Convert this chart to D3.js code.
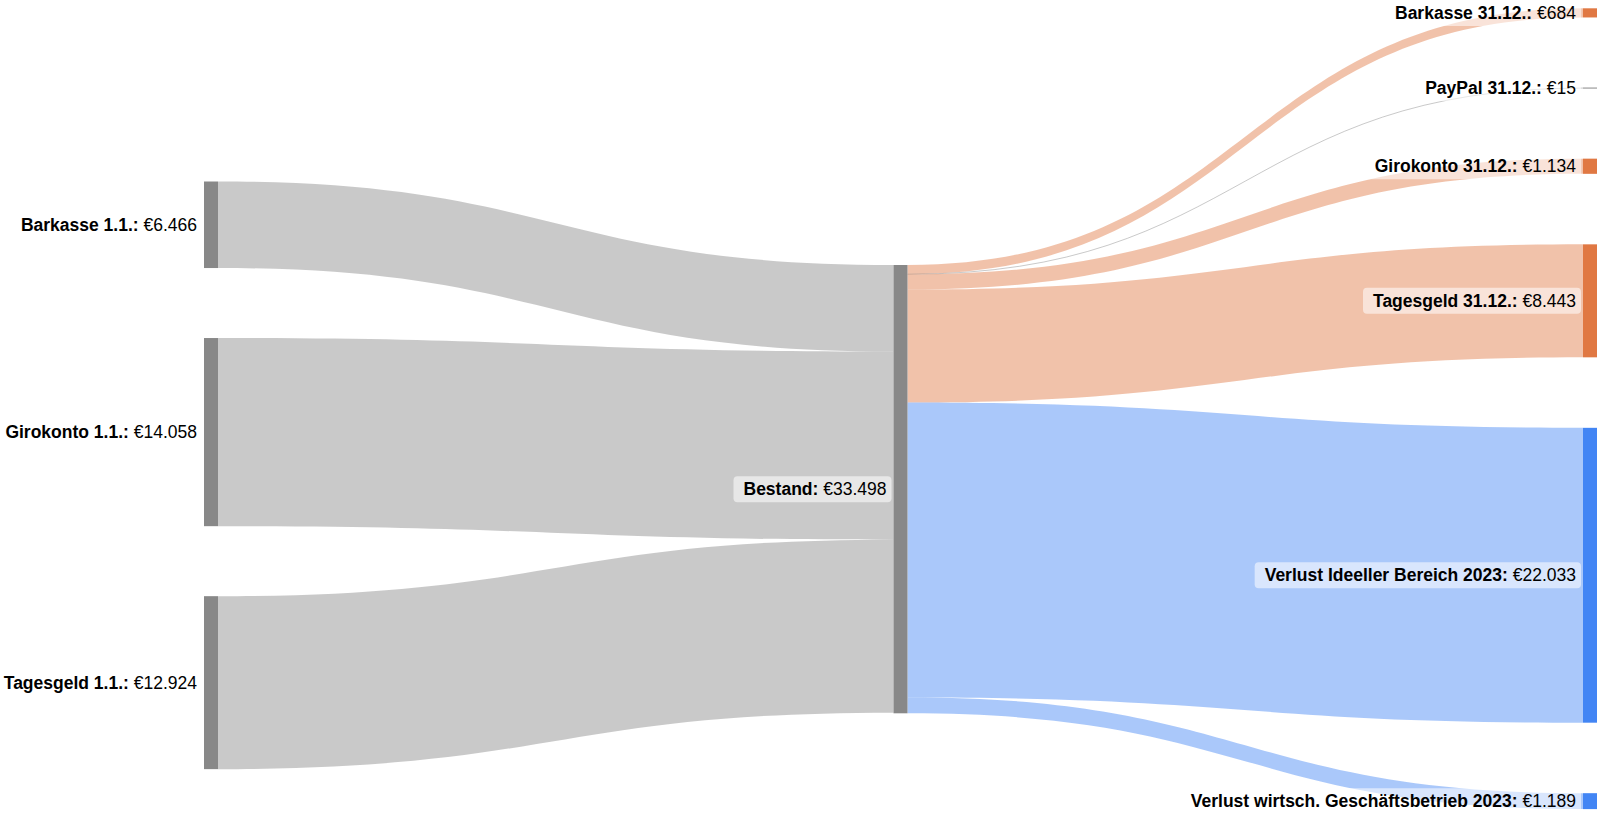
<!DOCTYPE html>
<html>
<head>
<meta charset="utf-8">
<script src="https://cdn.jsdelivr.net/npm/d3@7"></script>
<style>
  body { margin: 0; background: #fff; }
  svg text { font-family: "Liberation Sans", Arial, Helvetica, sans-serif; }
</style>
</head>
<body>
<div id="canvas"></div>
<script>
"use strict";

/* Data: Kassenbestand 1.1. -> Bestand -> 31.12. / Verluste */
const sourceNames = ["Barkasse 1.1.", "Girokonto 1.1.", "Tagesgeld 1.1."];
const sourceValues = [6466, 14058, 12924];

const hubName = "Bestand";

const targetNames = [
  "Barkasse 31.12.",
  "PayPal 31.12.",
  "Girokonto 31.12.",
  "Tagesgeld 31.12.",
  "Verlust Ideeller Bereich 2023",
  "Verlust wirtsch. Geschäftsbetrieb 2023"
];
const targetValues = [684, 15, 1134, 8443, 22033, 1189];
const targetKinds = ["konto", "paypal", "konto", "konto", "verlust", "verlust"];

/* Configuration: drawing */
let svgWidth = 1604;
let svgHeight = 815;
const nodeWidth = 14;
const colTop = [181.5, 265, 8.3];   // first node top per column
const colGap = [70, 0, 70.5];       // gap between nodes per column
const kindColor = { grey: "#888888", konto: "#e07843", paypal: "#888888", verlust: "#4285f4" };
const linkOpacity = 0.45;

// hub shows the larger of inflow / outflow
const hubValue = Math.max(d3.sum(sourceValues), d3.sum(targetValues));

// german currency format -> "€33.498"
const de = d3.formatLocale({ decimal: ",", thousands: ".", grouping: [3], currency: ["€", ""] });
const fmt = de.format("$,");

const svg = d3.select("#canvas")
  .append("svg")
  .attr("width", svgWidth)
  .attr("height", svgHeight);

// scales
const xScale = d3.scalePoint().domain([0, 1, 2]).range([204, 1583]);
const hScale = d3.scaleLinear().domain([0, hubValue]).range([0, 448.3]);

// build nodes
let nodes = [];
sourceNames.forEach((n, i) => nodes.push({ name: n, value: sourceValues[i], col: 0, color: kindColor.grey }));
nodes.push({ name: hubName, value: hubValue, col: 1, color: kindColor.grey });
targetNames.forEach((n, i) => nodes.push({ name: n, value: targetValues[i], col: 2, color: kindColor[targetKinds[i]] }));

// stack nodes in each column
[0, 1, 2].forEach(c => {
  let y = colTop[c];
  nodes.filter(d => d.col === c).forEach(d => {
    d.x0 = xScale(c);
    d.x1 = d.x0 + nodeWidth;
    d.y0 = y;
    d.y1 = y + hScale(d.value);
    d.outY = d.y0;
    d.inY = d.y0;
    y = d.y1 + colGap[c];
  });
});

const hub = nodes.find(d => d.col === 1);

// links
let links = [];
nodes.filter(d => d.col === 0).forEach(s => links.push({ source: s, target: hub, value: s.value, color: s.color }));
nodes.filter(d => d.col === 2).forEach(t => links.push({ source: hub, target: t, value: t.value, color: t.color }));

links.forEach(l => {
  const w = hScale(l.value);
  l.sy0 = l.source.outY; l.sy1 = l.sy0 + w; l.source.outY = l.sy1;
  l.ty0 = l.target.inY; l.ty1 = l.ty0 + w; l.target.inY = l.ty1;
  l.w = w;
});

function bandPath(l) {
  const x0 = l.source.x1, x1 = l.target.x0, xm = (x0 + x1) / 2;
  return `M${x0},${l.sy0}C${xm},${l.sy0} ${xm},${l.ty0} ${x1},${l.ty0}` +
         `L${x1},${l.ty1}C${xm},${l.ty1} ${xm},${l.sy1} ${x0},${l.sy1}Z`;
}
function linePath(l) {
  const x0 = l.source.x1, x1 = l.target.x0, xm = (x0 + x1) / 2;
  const a = (l.sy0 + l.sy1) / 2, b = (l.ty0 + l.ty1) / 2;
  return `M${x0},${a}C${xm},${a} ${xm},${b} ${x1},${b}`;
}

// draw links (tiny ones as 1px lines)
const linkG = svg.append("g");
links.forEach(l => {
  if (l.w < 1) {
    linkG.append("path")
      .attr("d", linePath(l))
      .attr("fill", "none")
      .attr("stroke", l.color)
      .attr("stroke-opacity", linkOpacity)
      .attr("stroke-width", 1);
  } else {
    linkG.append("path")
      .attr("d", bandPath(l))
      .attr("fill", l.color)
      .attr("fill-opacity", linkOpacity);
  }
});

// draw nodes
svg.append("g").selectAll("rect")
  .data(nodes)
  .enter()
  .append("rect")
  .attr("x", d => d.x0)
  .attr("y", d => (d.y1 - d.y0 < 1 ? (d.y0 + d.y1) / 2 - 0.5 : d.y0))
  .attr("width", nodeWidth)
  .attr("height", d => Math.max(1, d.y1 - d.y0))
  .attr("fill", d => d.color);

// labels with translucent background
const labelG = svg.append("g");
nodes.forEach(d => {
  const g = labelG.append("g");
  const t = g.append("text")
    .attr("x", d.x0 - 7)
    .attr("y", (d.y0 + d.y1) / 2)
    .attr("dy", "0.35em")
    .attr("text-anchor", "end")
    .attr("font-size", "17.5px")
    .attr("fill", "#000");
  t.append("tspan").attr("font-weight", "bold").text(d.name + ": ");
  t.append("tspan").text(fmt(d.value));
  const bb = t.node().getBBox();
  g.insert("rect", "text")
    .attr("x", bb.x - 10)
    .attr("y", (d.y0 + d.y1) / 2 - 13)
    .attr("width", bb.width + 15)
    .attr("height", 26)
    .attr("rx", 4)
    .attr("fill", "#fff")
    .attr("fill-opacity", 0.55);
});
</script>
</body>
</html>
